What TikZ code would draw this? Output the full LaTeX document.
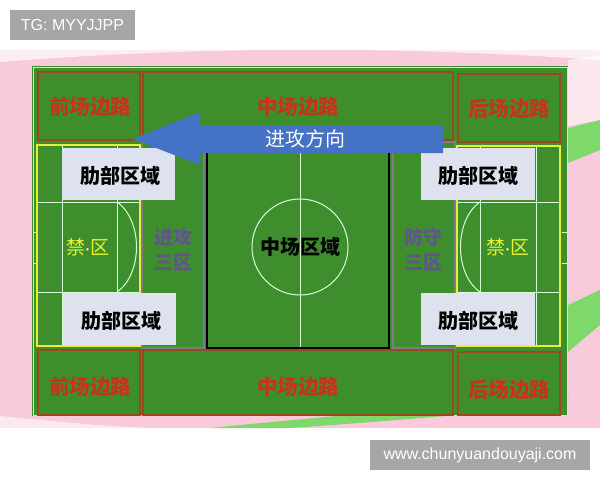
\documentclass[tikz,border=0pt]{standalone}
\usepackage{fontspec}
\setmainfont{Liberation Sans}
\newfontfamily\cjk{Noto Sans CJK SC}
\definecolor{pitch}{HTML}{3F8E2E}
\definecolor{wing}{HTML}{9A4A1A}
\definecolor{redtxt}{HTML}{C8321E}
\definecolor{boxfill}{HTML}{DDE2EE}
\definecolor{arrowblue}{HTML}{4472C4}
\definecolor{pinkbg}{HTML}{F8CADB}
\definecolor{zonegray}{HTML}{7C7C8C}
\definecolor{zonetxt}{HTML}{62548E}
\definecolor{boxyellow}{HTML}{E6EE3A}
\definecolor{stripe}{HTML}{7FD96A}
\tikzset{
  wingbox/.style={draw=wing, line width=1.6pt},
  redlabel/.style={text=redtxt, font=\cjk\bfseries\fontsize{20.5}{20.5}\selectfont},
  ribbox/.style={fill=boxfill},
  riblabel/.style={text=black, font=\cjk\bfseries\fontsize{20}{20}\selectfont},
  zonelabel/.style={text=zonetxt, font=\cjk\bfseries\fontsize{19}{25}\selectfont, align=center},
  boxlabel/.style={text=boxyellow!80!yellow, font=\cjk\fontsize{19}{19}\selectfont},
  pitchline/.style={draw=white!85!green, line width=1pt},
  zoneline/.style={draw=zonegray, line width=2pt},
  wmark/.style={fill=black!35, text=white, font=\fontsize{16}{16}\selectfont}
}
\newcommand\boxdot{{\rmfamily\bfseries\fontsize{14}{14}\selectfont\textcolor{white!80!yellow}{·}}}
\begin{document}
\begin{tikzpicture}[x=1pt,y=-1pt]
\useasboundingbox (0,0) rectangle (600,480);
\fill[white] (0,0) rectangle (600,480);
% background
\fill[pinkbg] (0,50) rectangle (600,428);
\fill[white,opacity=.7] (0,62) .. controls (200,46) and (400,46) .. (600,60) -- (600,50) -- (0,50) -- cycle;
\fill[white,opacity=.6] (568,60) -- (600,55) -- (600,120) -- (568,126) -- cycle;
\fill[stripe] (568,128) -- (600,120) -- (600,150) -- (568,163) -- cycle;
\fill[stripe] (568,305) -- (600,290) -- (600,325) -- (568,352) -- cycle;
\fill[white,opacity=.6] (0,416) .. controls (40,420) and (120,428) .. (160,428) -- (0,428) -- cycle;
\fill[stripe] (210,428) .. controls (350,414) and (480,404) .. (568,392) -- (568,404) .. controls (480,414) and (350,424) .. (290,428) -- cycle;
% pitch
\fill[pitch] (32,66) rectangle (568,416);
\draw[white!70!green, line width=1pt] (33,67) rectangle (567,415);
\draw[pitchline] (33,232) -- (38,232) (33,263) -- (38,263);
\draw[pitchline] (562,232) -- (567,232) (562,263) -- (567,263);
% wings
\draw[wingbox] (38,72) rectangle (140,140);
\draw[wingbox] (143,72) rectangle (453,140);
\draw[wingbox] (458,74) rectangle (560,142);
\draw[wingbox] (38,350) rectangle (140,415);
\draw[wingbox] (143,350) rectangle (453,415);
\draw[wingbox] (458,352) rectangle (560,415);
% third zones
\draw[zoneline] (142,142) rectangle (204,348);
\draw[zoneline] (393,142) rectangle (455,348);
% middle zone
\draw[pitchline] (300,150) -- (300,348);
\draw[pitchline] (300,247) circle (48pt);
\draw[black, line width=1.6pt] (207,150) rectangle (389,348);
% left box
\draw[pitchline] (37,202) -- (140,202) (37,292) -- (140,292);
\draw[pitchline] (62,145) -- (62,346) (117,145) -- (117,346);
\draw[pitchline] (117,202) .. controls (143,220) and (143,274) .. (117,292);
\draw[boxyellow, line width=1.6pt] (37,145) rectangle (140,346);
% right box
\draw[pitchline] (457,202) -- (560,202) (457,292) -- (560,292);
\draw[pitchline] (480,146) -- (480,346) (536,146) -- (536,346);
\draw[pitchline] (480,202) .. controls (454,220) and (454,274) .. (480,292);
\draw[boxyellow, line width=1.6pt] (457,146) rectangle (560,346);
% rib areas
\fill[ribbox] (62,148) rectangle (175,200);
\fill[ribbox] (63,293) rectangle (176,345);
\fill[ribbox] (421,148) rectangle (535,200);
\fill[ribbox] (421,293) rectangle (535,345);
\node[riblabel] (ribTL) at (120,176) {肋部区域};
\node[riblabel] (ribBL) at (121,321) {肋部区域};
\node[riblabel] (ribTR) at (478,176) {肋部区域};
\node[riblabel] (ribBR) at (478,321) {肋部区域};
% labels
\node[redlabel] (wingTL) at (90,107) {前场边路};
\node[redlabel] (wingTM) at (298,107) {中场边路};
\node[redlabel] (wingTR) at (509,109) {后场边路};
\node[redlabel] (wingBL) at (90,387) {前场边路};
\node[redlabel] (wingBM) at (298,387) {中场边路};
\node[redlabel] (wingBR) at (509,390) {后场边路};
\node[boxlabel] (boxL) at (88,247) {禁\boxdot 区};
\node[boxlabel] (boxR) at (508,247) {禁\boxdot 区};
\node[zonelabel] (attack) at (173,249) {进攻\\三区};
\node[zonelabel] (defend) at (423,249) {防守\\三区};
\node[riblabel] (midzone) at (300,247) {中场区域};
% direction arrow
\fill[arrowblue] (133,139) -- (200,112) -- (200,125) -- (443,125) -- (443,153)
  -- (200,153) -- (200,165) -- cycle;
\node[text=white, font=\cjk\fontsize{20}{20}\selectfont] (dir) at (305,139) {进攻方向};
% watermarks
\node[wmark, minimum width=125pt, minimum height=30pt] (tg) at (72.5,25) {TG: MYYJJPP};
\node[wmark, minimum width=220pt, minimum height=30pt] (site) at (480,455) {www.chunyuandouyaji.com};
\end{tikzpicture}
\end{document}
